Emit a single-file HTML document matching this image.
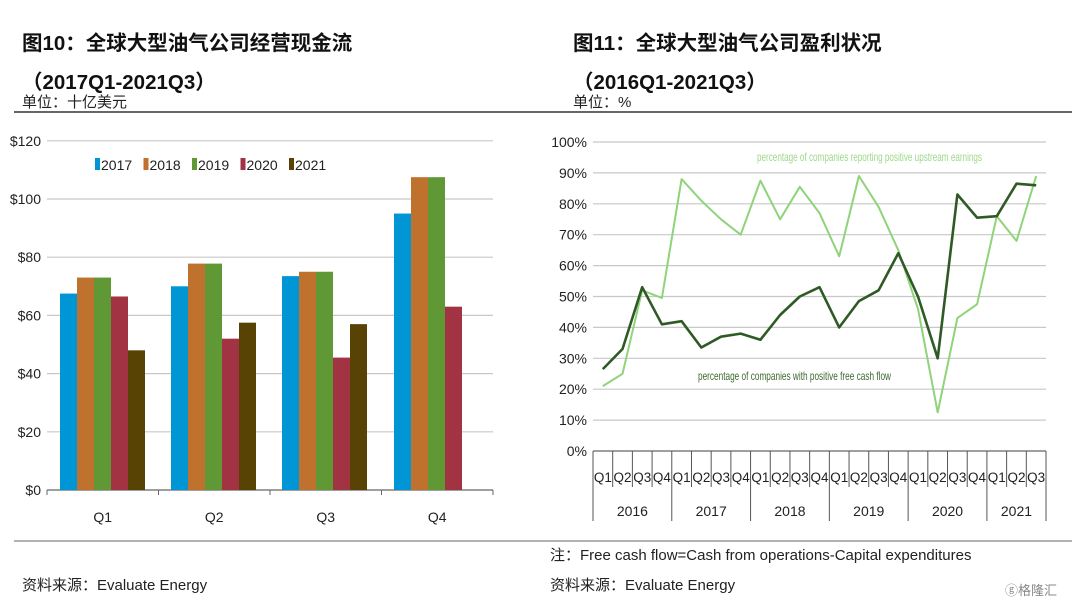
<!DOCTYPE html>
<html><head><meta charset="utf-8"><style>
body{margin:0;width:1080px;height:608px;background:#fff;font-family:"Liberation Sans","Noto Sans CJK SC",sans-serif;position:relative;overflow:hidden}
.t{position:absolute;white-space:nowrap;color:#222}
.b{font-weight:bold;font-size:20.5px;color:#111}
.s{font-size:15px}
</style></head><body>
<div class="t b" style="left:22px;top:26px">图10：全球大型油气公司经营现金流</div>
<div class="t b" style="left:22px;top:65px">（2017Q1-2021Q3）</div>
<div class="t s" style="left:22px;top:91px">单位：十亿美元</div>
<div class="t b" style="left:573px;top:26px">图11：全球大型油气公司盈利状况</div>
<div class="t b" style="left:573px;top:65px">（2016Q1-2021Q3）</div>
<div class="t s" style="left:573px;top:91px">单位：%</div>
<div class="t s" style="left:550px;top:544px">注：Free cash flow=Cash from operations-Capital expenditures</div>
<div class="t s" style="left:22px;top:574px">资料来源：Evaluate Energy</div>
<div class="t s" style="left:550px;top:574px">资料来源：Evaluate Energy</div>
<div class="t" style="left:1005px;top:580px;font-size:13px;color:#888">ⓖ格隆汇</div>
<svg width="1080" height="608" style="position:absolute;left:0;top:0" font-family="Liberation Sans Narrow, Liberation Sans, sans-serif">
<line x1="14" y1="112" x2="1072" y2="112" stroke="#666" stroke-width="2"/>
<line x1="14" y1="541" x2="1072" y2="541" stroke="#666" stroke-width="1"/>
<g id="L"></g><g id="R"></g>
</svg>
<script>
const NS="http://www.w3.org/2000/svg";
function el(p,t,a,txt){const e=document.createElementNS(NS,t);for(const k in a)e.setAttribute(k,a[k]);if(txt!==undefined)e.textContent=txt;document.getElementById(p).appendChild(e);return e;}
const y0=490,pp=58.2/20;
for(let v=0;v<=120;v+=20){const y=y0-v*pp;if(v>0)el("L","line",{x1:47,x2:493,y1:y,y2:y,stroke:"#c8c8c8","stroke-width":1.2});
el("L","text",{x:41,y:y+5,"text-anchor":"end","font-size":14,fill:"#222"},"$"+v);}
el("L","line",{x1:47,x2:493,y1:y0,y2:y0,stroke:"#666","stroke-width":1.2});
for(let i=0;i<=4;i++){const x=47+i*111.5;el("L","line",{x1:x,x2:x,y1:y0,y2:y0+5,stroke:"#666"});}
const cols=["#0096d6","#bf722d","#5f9834","#a23343","#584304"];
const data=[[67.5,73,73,66.5,48],[70,77.8,77.8,52,57.5],[73.5,75,75,45.5,57],[95,107.5,107.5,63]];
const gs=[60,171,282,394];
data.forEach((g,gi)=>{g.forEach((v,bi)=>{el("L","rect",{x:gs[gi]+bi*17,y:y0-v*pp,width:17,height:v*pp,fill:cols[bi]});});
el("L","text",{x:47+111.5*(gi+0.5),y:522,"text-anchor":"middle","font-size":14,fill:"#222"},"Q"+(gi+1));});
["2017","2018","2019","2020","2021"].forEach((s,i)=>{const x=95+i*48.5;el("L","rect",{x:x,y:158,width:5,height:12,fill:cols[i]});el("L","text",{x:x+6,y:170,"font-size":14,fill:"#222"},s);});
const ry0=451,rp=30.9/10,rx0=593,cw=(1046-593)/23;
for(let v=0;v<=100;v+=10){const y=ry0-v*rp;if(v>0)el("R","line",{x1:rx0,x2:1046,y1:y,y2:y,stroke:"#c8c8c8","stroke-width":1.2});
el("R","text",{x:587,y:y+5,"text-anchor":"end","font-size":14,fill:"#222"},v+"%");}
el("R","line",{x1:rx0,x2:1046,y1:ry0,y2:ry0,stroke:"#666","stroke-width":1.2});
for(let i=0;i<=23;i++){const x=rx0+i*cw;const yr=(i%4==0||i==23);el("R","line",{x1:x,x2:x,y1:ry0,y2:yr?521:487,stroke:"#555"});}
for(let i=0;i<23;i++)el("R","text",{x:rx0+cw*(i+0.5),y:482,"text-anchor":"middle","font-size":13.5,fill:"#222"},"Q"+(i%4+1));
["2016","2017","2018","2019","2020","2021"].forEach((s,i)=>{const a=i*4,b=Math.min(23,a+4);el("R","text",{x:rx0+cw*(a+b)/2,y:516,"text-anchor":"middle","font-size":14,fill:"#222"},s);});
const dk=[26.5,33,53,41,42,33.5,37,38,36,44,50,53,40,48.5,52,64,50,30,83,75.5,76,86.5,86];
const lt=[21,25,52,49.5,88,81,75,70,87.5,75,85.5,77,63,89,79,65,46,12.5,43,47.5,76,68,89];
function pl(d,c,w){el("R","polyline",{points:d.map((v,i)=>(rx0+cw*(i+0.5)).toFixed(1)+","+(ry0-v*rp).toFixed(1)).join(" "),fill:"none",stroke:c,"stroke-width":w,"stroke-linejoin":"round"});}
pl(lt,"#8fd37a",2);pl(dk,"#2f5a26",2.6);
el("R","text",{x:757,y:161,"font-size":12,fill:"#9ed98a",textLength:225,lengthAdjust:"spacingAndGlyphs"},"percentage of companies reporting positive upstream earnings");
el("R","text",{x:698,y:380,"font-size":12,fill:"#3d6a30",textLength:193,lengthAdjust:"spacingAndGlyphs"},"percentage of companies with positive free cash flow");
</script>
</body></html>
